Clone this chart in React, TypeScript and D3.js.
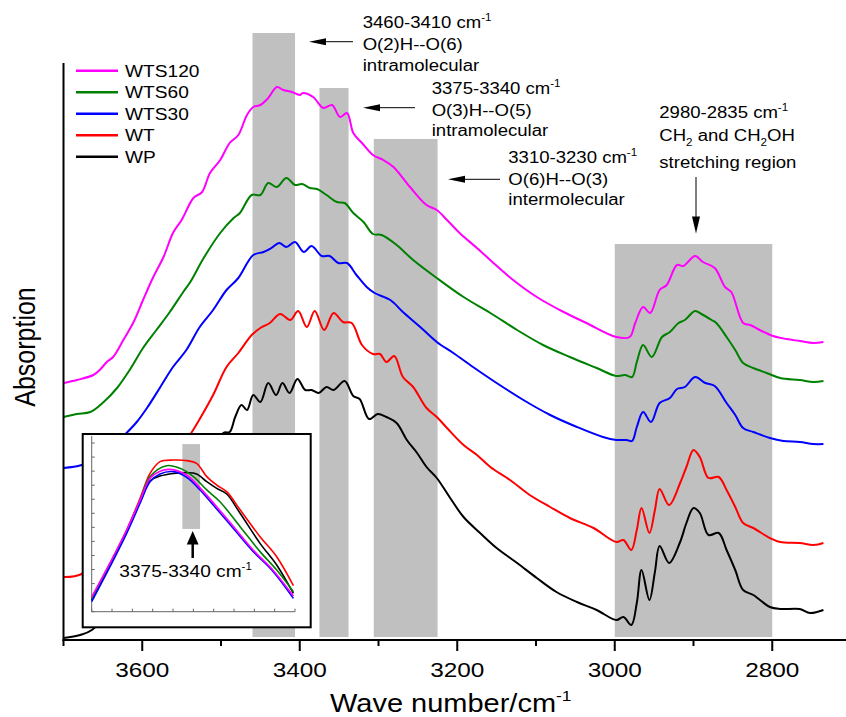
import React from 'react';
import * as d3 from 'd3';

const W = 846;
const H = 717;

// ---------------- data ----------------
const seriesNames = ['WTS120', 'WTS60', 'WTS30', 'WT', 'WP'];
const seriesColors = ['#ff00ff', '#008000', '#0000ff', '#ff0000', '#000000'];

const wts120: [number, number][] = [[3700,257],[3683,260],[3662,265],[3654,270],[3645,278],[3637,283],[3624,300],[3611,318],[3599,340],[3586,363],[3573,383],[3561,407],[3550,420],[3535,442],[3524,448],[3514,467],[3501,480],[3489,497],[3478,505],[3467,525],[3459,533],[3450,535],[3440,542],[3429,553],[3421,550],[3410,548],[3400,545],[3396,547],[3383,543],[3370,532],[3359,535],[3349,523],[3340,527],[3332,507],[3321,497],[3307,485],[3294,480],[3281,473],[3260,453],[3239,435],[3226,430],[3213,420],[3197,407],[3175,392],[3154,377],[3129,360],[3099,343],[3065,328],[3036,317],[2998,303],[2981,303],[2974,317],[2964,333],[2955,327],[2943,350],[2934,355],[2921,375],[2913,374],[2898,384],[2888,378],[2873,372],[2860,353],[2852,348],[2837,317],[2828,315],[2816,310],[2799,304],[2782,301],[2765,299],[2748,297],[2735,298]];

const wts60: [number, number][] = [[3700,223],[3683,226],[3666,228],[3649,238],[3632,252],[3616,270],[3599,292],[3582,310],[3565,328],[3548,348],[3539,358],[3522,382],[3501,407],[3484,422],[3476,427],[3461,445],[3450,445],[3440,457],[3429,453],[3417,462],[3406,455],[3397,456],[3387,452],[3378,451],[3366,445],[3353,438],[3343,437],[3332,427],[3319,418],[3307,406],[3296,405],[3277,395],[3256,380],[3226,362],[3192,343],[3158,327],[3124,310],[3091,295],[3057,283],[3023,272],[2998,264],[2987,265],[2978,263],[2972,278],[2964,295],[2953,283],[2940,303],[2930,308],[2919,317],[2911,320],[2898,329],[2890,326],[2877,320],[2871,317],[2858,303],[2847,290],[2837,277],[2824,272],[2807,267],[2790,262],[2765,260],[2748,258],[2735,259]];

const wts30: [number, number][] = [[3700,172],[3677,175],[3650,185],[3620,207],[3607,218],[3594,232],[3577,253],[3561,273],[3544,290],[3527,313],[3510,330],[3493,350],[3478,362],[3459,385],[3446,388],[3436,392],[3426,397],[3417,393],[3406,398],[3395,388],[3385,394],[3372,384],[3362,384],[3351,377],[3340,377],[3328,365],[3315,353],[3305,347],[3285,340],[3269,328],[3247,313],[3226,298],[3205,287],[3180,273],[3150,257],[3116,240],[3082,225],[3048,213],[3015,203],[2998,200],[2985,200],[2978,199],[2972,213],[2964,228],[2954,218],[2943,237],[2930,242],[2921,251],[2911,253],[2898,263],[2885,257],[2873,254],[2858,237],[2847,225],[2837,212],[2824,208],[2803,202],[2786,199],[2765,198],[2748,196],[2735,196]];

const wt: [number, number][] = [[3700,63],[3677,66],[3640,95],[3590,150],[3537,208],[3527,221],[3510,245],[3493,273],[3478,287],[3461,305],[3450,312],[3438,317],[3425,326],[3412,320],[3402,329],[3391,313],[3381,329],[3369,310],[3357,327],[3345,318],[3334,317],[3321,295],[3307,286],[3298,286],[3290,278],[3280,284],[3269,263],[3256,253],[3239,232],[3226,223],[3213,212],[3192,195],[3175,185],[3158,173],[3133,160],[3108,145],[3082,133],[3057,122],[3027,112],[2998,98],[2989,100],[2979,90],[2972,110],[2966,132],[2956,107],[2949,130],[2943,151],[2931,135],[2917,157],[2909,173],[2900,190],[2892,183],[2881,162],[2868,163],[2858,150],[2847,133],[2837,117],[2824,112],[2803,102],[2790,98],[2765,97],[2748,95],[2735,97]];

const wp: [number, number][] = [[3700,2],[3679,5],[3664,10],[3630,40],[3580,100],[3530,160],[3497,207],[3489,208],[3482,223],[3474,235],[3467,230],[3459,245],[3450,238],[3440,257],[3430,245],[3422,257],[3413,247],[3403,261],[3393,250],[3385,250],[3376,247],[3366,253],[3357,250],[3343,259],[3332,244],[3324,241],[3312,221],[3301,226],[3290,223],[3277,217],[3264,200],[3251,187],[3239,173],[3226,162],[3209,142],[3192,123],[3171,107],[3150,92],[3124,77],[3099,62],[3074,48],[3048,38],[3023,30],[2998,20],[2989,23],[2979,15],[2972,37],[2966,70],[2956,40],[2949,68],[2943,94],[2931,77],[2917,98],[2909,117],[2900,132],[2892,127],[2881,105],[2868,107],[2858,90],[2847,70],[2837,50],[2824,45],[2803,33],[2790,31],[2765,31],[2752,27],[2735,30]];

const seriesData = [wts120, wts60, wts30, wt, wp];

// highlighted bands (wavenumber ranges, top in absorption units)
const bandStart = [3460, 3375, 3306, 3000];
const bandEnd = [3406, 3338, 3225, 2800];
const bandTop = [607, 552, 501, 396];
const bandBottom = 3;

const majorTicks = [3600, 3400, 3200, 3000, 2800];
const minorTicks = [3700, 3500, 3300, 3100, 2900, 2700];

// inset spectra (normalised 0-100 units)
const insetWP: [number, number][] = [[0,6.6],[9,26.5],[17.2,45.5],[23.8,62.5],[28.7,74.5],[33.6,77.2],[40.2,78.7],[46.7,79.1],[51.6,78.4],[56.6,74],[61.5,70.2],[66.4,67],[73,56],[82.8,38.9],[91,26.6],[99.2,10.4]];
const insetWT: [number, number][] = [[0,7.6],[9,27.5],[17.2,46.5],[23.8,64.5],[28.7,78.7],[33.6,85.4],[40.2,86.3],[46.7,86],[51.6,84.4],[56.6,76.9],[61.5,72.1],[66.4,68.3],[73,58],[82.8,42.7],[91,31.3],[99.2,14.8]];
const insetWTS60: [number, number][] = [[0,7],[9,27],[17.2,46],[23.8,63.6],[28.7,76.9],[36.9,83.1],[43.4,81.6],[50,76.9],[56.6,69.3],[63.1,62.6],[73,48.4],[82.8,34.2],[91,23.7],[99.2,11.4]];
const insetWTS30: [number, number][] = [[0,5.7],[9,25.6],[17.2,44.6],[23.8,61.7],[28.7,74],[33.6,78.4],[40.2,79.7],[46.7,76.5],[53.3,69.3],[59.8,60.7],[69.7,47.4],[79.5,34.2],[89.3,22.8],[99.2,7.6]];
const insetWTS120: [number, number][] = [[0,8.5],[9,27.8],[17.2,46.5],[23.8,63.5],[28.7,76],[33.6,80],[38.5,81],[46.7,77.8],[53.3,70.5],[59.8,62],[69.7,48.5],[79.5,35],[89.3,23.5],[99.2,8.9]];
const insetSeries = [insetWP, insetWT, insetWTS60, insetWTS30, insetWTS120];
const insetColors = ['#000000', '#ff0000', '#008000', '#0000ff', '#ff00ff'];
const insetBand = [44.6, 53.3, 47.1, 95.4]; // x0, x1, y0, y1
const insetXTicks = d3.range(0, 101, 10);
const insetYTicks = d3.range(0, 101, 8);

// ---------------- layout ----------------
const FONT = "Arial, 'Liberation Sans', Helvetica, sans-serif";
const SX = 1.16;
const x = d3.scaleLinear().domain([3700, 2700]).range([63.5, 851]);
const y = d3.scaleLinear().domain([0, 600]).range([640, 40]);
const ix = d3.scaleLinear().domain([0, 100]).range([91.7, 295]);
const iy = d3.scaleLinear().domain([0, 100]).range([611.7, 436]);

const line = d3.line<[number, number]>().x(d => x(d[0])).y(d => y(d[1])).curve(d3.curveCatmullRom.alpha(0.5));
const iline = d3.line<[number, number]>().x(d => ix(d[0])).y(d => iy(d[1])).curve(d3.curveCatmullRom.alpha(0.5));

function SText(props: { x: number; y: number; size: number; anchor?: string; rotate?: boolean; children: any }) {
  const { x: tx, y: ty, size, anchor = 'start', rotate = false, children } = props;
  const t = `translate(${tx},${ty}) scale(${SX},1)` + (rotate ? ' rotate(-90)' : '');
  return (
    <text transform={t} fontSize={size} textAnchor={anchor as any} fontFamily={FONT} fill="#000">
      {children}
    </text>
  );
}

function HArrow({ x1, x2, yy }: { x1: number; x2: number; yy: number }) {
  // x1 = tail, x2 = tip (tip to the left)
  const L = 17, hw = 3.5;
  return (
    <g>
      <line x1={x1} y1={yy} x2={x2 + L - 1} y2={yy} stroke="#000" strokeWidth={1} />
      <path d={`M${x2},${yy} L${x2 + L},${yy - hw} L${x2 + L},${yy + hw} Z`} fill="#000" />
    </g>
  );
}

function Sup({ children }: { children: any }) {
  return <tspan fontSize={10} dy={-7}>{children}</tspan>;
}

export default function App() {
  return (
    <svg width={W} height={H} style={{ position: 'absolute', left: 0, top: 0, background: '#fff' }}>
      <rect x={0} y={0} width={W} height={H} fill="#fff" />
      {/* bands */}
      {bandStart.map((b, i) => (
        <rect key={i} x={x(b)} y={y(bandTop[i])} width={x(bandEnd[i]) - x(b)} height={y(bandBottom) - y(bandTop[i])} fill="#c0c0c0" />
      ))}
      {/* curves */}
      {seriesData.map((d, i) => (
        <path key={i} d={line(d) || ''} fill="none" stroke={seriesColors[i]} strokeWidth={2} strokeLinejoin="round" />
      ))}

      {/* axes */}
      <line x1={63.5} y1={63} x2={63.5} y2={641} stroke="#000" strokeWidth={2} />
      <line x1={62.5} y1={640} x2={W} y2={640} stroke="#000" strokeWidth={2} />
      {majorTicks.map(t => (
        <g key={t}>
          <line x1={x(t)} x2={x(t)} y1={640} y2={651} stroke="#000" strokeWidth={2} />
          <SText x={x(t)} y={677} size={21} anchor="middle">{t}</SText>
        </g>
      ))}
      {minorTicks.map(t => (
        <line key={t} x1={x(t)} x2={x(t)} y1={640} y2={646} stroke="#000" strokeWidth={2} />
      ))}
      <SText x={330} y={712} size={25} anchor="start">
        Wave number/cm<tspan fontSize={15} dy={-11}>-1</tspan>
      </SText>
      <SText x={35} y={347} size={25} anchor="middle" rotate>Absorption</SText>

      {/* legend */}
      {seriesNames.map((n, i) => (
        <g key={n}>
          <line x1={76} x2={118} y1={70.7 + i * 21.5} y2={70.7 + i * 21.5} stroke={seriesColors[i]} strokeWidth={2.5} />
          <SText x={125} y={76.7 + i * 21.5} size={16.5}>{n}</SText>
        </g>
      ))}

      {/* annotations */}
      <HArrow x1={353} x2={309} yy={41.7} />
      <SText x={362.7} y={28} size={16}>3460-3410 cm<Sup>-1</Sup></SText>
      <SText x={362.7} y={50} size={16}>O(2)H--O(6)</SText>
      <SText x={362.7} y={71} size={16}>intramolecular</SText>

      <HArrow x1={415} x2={363} yy={107.7} />
      <SText x={431.7} y={94} size={16}>3375-3340 cm<Sup>-1</Sup></SText>
      <SText x={431.7} y={115.5} size={16}>O(3)H--O(5)</SText>
      <SText x={431.7} y={136} size={16}>intramolecular</SText>

      <HArrow x1={500} x2={448} yy={179.3} />
      <SText x={508.3} y={163.3} size={16}>3310-3230 cm<Sup>-1</Sup></SText>
      <SText x={508.3} y={185} size={16}>O(6)H--O(3)</SText>
      <SText x={508.3} y={205} size={16}>intermolecular</SText>

      <line x1={696} x2={696} y1={177} y2={220} stroke="#000" strokeWidth={1} />
      <path d={`M696,233.5 L692,216.5 L700,216.5 Z`} fill="#000" />
      <SText x={659.3} y={118} size={16}>2980-2835 cm<Sup>-1</Sup></SText>
      <SText x={659.3} y={141} size={16}>
        CH<tspan fontSize={10} dy={5}>2</tspan><tspan dy={-5}> and CH</tspan><tspan fontSize={10} dy={5}>2</tspan><tspan dy={-5}>OH</tspan>
      </SText>
      <SText x={659.3} y={167.5} size={16}>stretching region</SText>

      {/* inset */}
      <g>
        <rect x={82.7} y={434} width={228} height={193.3} fill="#fff" stroke="#000" strokeWidth={2} />
        <rect x={ix(insetBand[0])} y={iy(insetBand[3])} width={ix(insetBand[1]) - ix(insetBand[0])} height={iy(insetBand[2]) - iy(insetBand[3])} fill="#c0c0c0" />
        <line x1={ix(0)} x2={ix(0)} y1={iy(100)} y2={iy(0)} stroke="#666" strokeWidth={1} />
        <line x1={ix(0)} x2={ix(100)} y1={iy(0)} y2={iy(0)} stroke="#666" strokeWidth={1} />
        {insetXTicks.map(t => (
          <line key={'ix' + t} x1={ix(t)} x2={ix(t)} y1={iy(0)} y2={iy(0) - 3} stroke="#666" strokeWidth={1} />
        ))}
        {insetYTicks.map(t => (
          <line key={'iy' + t} x1={ix(0)} x2={ix(0) + 3} y1={iy(t)} y2={iy(t)} stroke="#666" strokeWidth={1} />
        ))}
        {insetSeries.map((d, i) => (
          <path key={i} d={iline(d) || ''} fill="none" stroke={insetColors[i]} strokeWidth={1.6} />
        ))}
        <line x1={192.7} x2={192.7} y1={558} y2={543} stroke="#000" strokeWidth={2.5} />
        <path d="M192.7,531 L186.8,544.5 L198.6,544.5 Z" fill="#000" />
        <SText x={119.3} y={577} size={16.5}>3375-3340 cm<Sup>-1</Sup></SText>
      </g>
    </svg>
  );
}
